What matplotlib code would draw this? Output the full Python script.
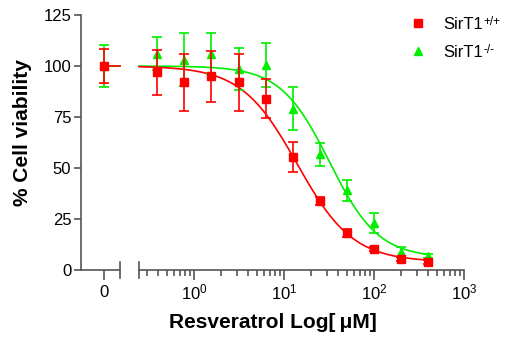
import numpy as np
import matplotlib
matplotlib.use("Agg")
import matplotlib.pyplot as plt
from matplotlib.ticker import FixedLocator, NullFormatter, LogLocator
from matplotlib.lines import Line2D

plt.rcParams['font.family'] = ['Liberation Sans', 'DejaVu Sans']
plt.rcParams['mathtext.fontset'] = 'custom'
plt.rcParams['mathtext.rm'] = 'Liberation Sans'
plt.rcParams['mathtext.it'] = 'Liberation Sans:italic'
plt.rcParams['mathtext.bf'] = 'Liberation Sans:bold'

# ---- data ----
conc = [0.39, 0.78, 1.56, 3.125, 6.25, 12.5, 25, 50, 100, 200, 400]
wt_zero, wt_zero_err = 100, 8.5
wt_mean = [97, 92, 95, 92, 84, 55.4, 34, 18, 10.3, 5.4, 4]
wt_err = [11, 14, 12.5, 14, 9.5, 7.3, 2, 2, 1, 1, 1]
ko_zero, ko_zero_err = 100, 10.5
ko_mean = [106, 103, 106, 98.5, 100.5, 79, 56.7, 39, 23, 8.8, 7]
ko_err = [8, 13, 10, 10.5, 11, 10.5, 5.5, 5, 5, 2.5, 1]
# fitted 4-parameter logistic curves (top, bottom, IC50, hill)
wt_fit = (100, 4, 14, 1.4)
ko_fit = (100, 6, 32, 1.6)
labels = ['SirT1', 'SirT1']
label_sups = ['+/+', '-/-']
yticks = [0, 25, 50, 75, 100, 125]

RED = '#FF0000'
GREEN = '#00EE00'
SPINE = '#555555'
MS = 5.5

def logistic(x, p):
    top, bot, ic50, h = p
    return bot + (top - bot) / (1 + (x / ic50) ** h)

W, H = 506, 343
fig = plt.figure(figsize=(W / 100, H / 100), dpi=100)
bottom = (H - 270) / H
height = 255 / H
axL = fig.add_axes([81 / W, bottom, (120 - 81) / W, height])
axR = fig.add_axes([139 / W, bottom, (464 - 139) / W, height], sharey=axL)

for ax in (axL, axR):
    for s in ('top', 'right'):
        ax.spines[s].set_visible(False)
    ax.spines['bottom'].set_color(SPINE)
    ax.spines['left'].set_color(SPINE)
    ax.spines['bottom'].set_linewidth(1.2)
    ax.spines['left'].set_linewidth(1.2)
    ax.tick_params(colors=SPINE, labelcolor='black', labelsize=12, width=1.2)
    ax.set_facecolor('none')
axR.spines['left'].set_visible(False)

axL.set_ylim(0, 125)
axL.set_yticks(yticks)
axL.tick_params(axis='y', length=5, pad=2)
axL.set_xlim(-0.59, 0.41)
axL.set_xticks([0])
axL.set_xticklabels(['0'])
axL.tick_params(axis='x', length=7, pad=4)

axR.set_xscale('log')
axR.set_xlim(10 ** -0.611, 1000)
axR.xaxis.set_major_locator(FixedLocator([1, 10, 100, 1000]))
axR.set_xticklabels(['$10^{0}$', '$10^{1}$', '$10^{2}$', '$10^{3}$'])
axR.xaxis.set_minor_locator(LogLocator(base=10, subs=np.arange(2, 10), numticks=20))
axR.xaxis.set_minor_formatter(NullFormatter())
axR.tick_params(axis='x', which='major', length=7, pad=2)
axR.tick_params(axis='x', which='minor', length=4, width=1.2, colors=SPINE)
axR.tick_params(axis='y', left=False, labelleft=False)

# break ticks
for ax, xf in ((axL, 1.0), (axR, 0.0)):
    ax.plot([xf, xf], [-0.03, 0.03], transform=ax.transAxes, color=SPINE,
            lw=1.2, clip_on=False)

# fitted curves
xs = np.logspace(-0.611, np.log10(400), 300)
axR.plot(xs, logistic(xs, ko_fit), color=GREEN, lw=1.2, zorder=2)
axR.plot(xs, logistic(xs, wt_fit), color=RED, lw=1.2, zorder=3)
axL.plot([0, 0.41], [ko_zero, ko_zero], color=GREEN, lw=1.2, zorder=2)
axL.plot([0, 0.41], [wt_zero, wt_zero], color=RED, lw=1.2, zorder=3)

ekw = dict(ls='none', elinewidth=1.2, capsize=3.5, capthick=1.2)
axR.errorbar(conc, ko_mean, yerr=ko_err, color=GREEN, marker='^', ms=MS,
             zorder=4, **ekw)
axL.errorbar([0], [ko_zero], yerr=[ko_zero_err], color=GREEN, marker='^', ms=MS,
             zorder=4, **ekw)
axR.errorbar(conc, wt_mean, yerr=wt_err, color=RED, marker='s', ms=MS,
             zorder=5, **ekw)
axL.errorbar([0], [wt_zero], yerr=[wt_zero_err], color=RED, marker='s', ms=MS,
             zorder=5, **ekw)

for ax in (axL, axR):
    for line in ax.lines:
        line.set_clip_on(False)

fig.text(23 / W, 1 - 133 / H, '% Cell viability', rotation=90, ha='center',
         va='center', fontsize=15, fontweight='bold')
fig.text(273 / W, 1 - 323 / H, 'Resveratrol Log[\u2009\u03bcM]', ha='center',
         va='center', fontsize=15, fontweight='bold')

handles = [Line2D([], [], ls='none', marker='s', color=RED, ms=MS),
           Line2D([], [], ls='none', marker='^', color=GREEN, ms=MS)]
leg = fig.legend(handles, labels, loc='upper left', bbox_to_anchor=(403 / W, 1 - 10 / H),
                 frameon=False, fontsize=12, handlelength=1.0, handletextpad=1.0,
                 labelspacing=0.8, borderaxespad=0)
fig.canvas.draw()
r = fig.canvas.get_renderer()
for t, sup in zip(leg.get_texts(), label_sups):
    bb = t.get_window_extent(r)
    fig.text((bb.x1 + 1) / W, (bb.y1 + 1) / H, sup, ha='left', va='top',
             fontsize=8.5)

fig.savefig('out.png', dpi=100)
